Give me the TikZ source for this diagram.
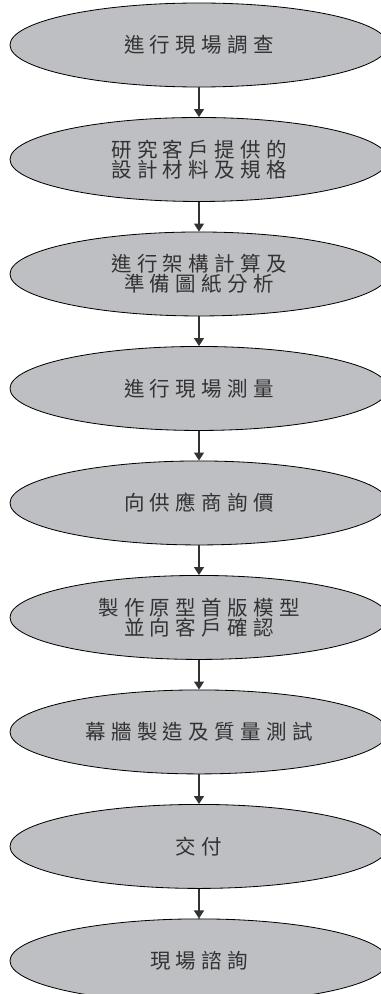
\documentclass[tikz,border=0pt]{standalone}
\usepackage{fontspec}
\newfontfamily\cjk[LetterSpace=26]{Noto Sans CJK TC}
\usepackage{tikz}
\usetikzlibrary{positioning, arrows.meta, shapes.geometric}
\definecolor{ovalGray}{RGB}{190,191,195}
\definecolor{inkGray}{RGB}{50,50,50}
\tikzset{
	stepoval/.style={ellipse, draw=black, line width=0.7pt, fill=ovalGray,
		minimum width=11.34cm, minimum height=2.52cm, inner sep=0pt,
		align=center, text=inkGray, font=\cjk\fontsize{17.5}{16}\selectfont},
	stepArr/.style={-{Triangle[length=2.4mm, width=3mm]}, line width=1.1pt, draw=inkGray}
}

\begin{document}
\begin{tikzpicture}[node distance=0.89cm]
	\useasboundingbox (0,0) rectangle (11.4,-29.82);
	\node[stepoval] (survey) at (5.97,-1.35) {進行現場調查};
	\node[stepoval, below=of survey] (specs) {研究客戶提供的\\設計材料及規格};
	\node[stepoval, below=of specs] (calc) {進行架構計算及\\準備圖紙分析};
	\node[stepoval, below=of calc] (measure) {進行現場測量};
	\node[stepoval, below=of measure] (quote) {向供應商詢價};
	\node[stepoval, below=of quote] (proto) {製作原型首版模型\\並向客戶確認};
	\node[stepoval, below=of proto] (fab) {幕牆製造及質量測試};
	\node[stepoval, below=of fab] (deliver) {交付};
	\node[stepoval, below=of deliver] (consult) {現場諮詢};
	\draw[stepArr] (survey) -- (specs);
	\draw[stepArr] (specs) -- (calc);
	\draw[stepArr] (calc) -- (measure);
	\draw[stepArr] (measure) -- (quote);
	\draw[stepArr] (quote) -- (proto);
	\draw[stepArr] (proto) -- (fab);
	\draw[stepArr] (fab) -- (deliver);
	\draw[stepArr] (deliver) -- (consult);
\end{tikzpicture}
\end{document}
